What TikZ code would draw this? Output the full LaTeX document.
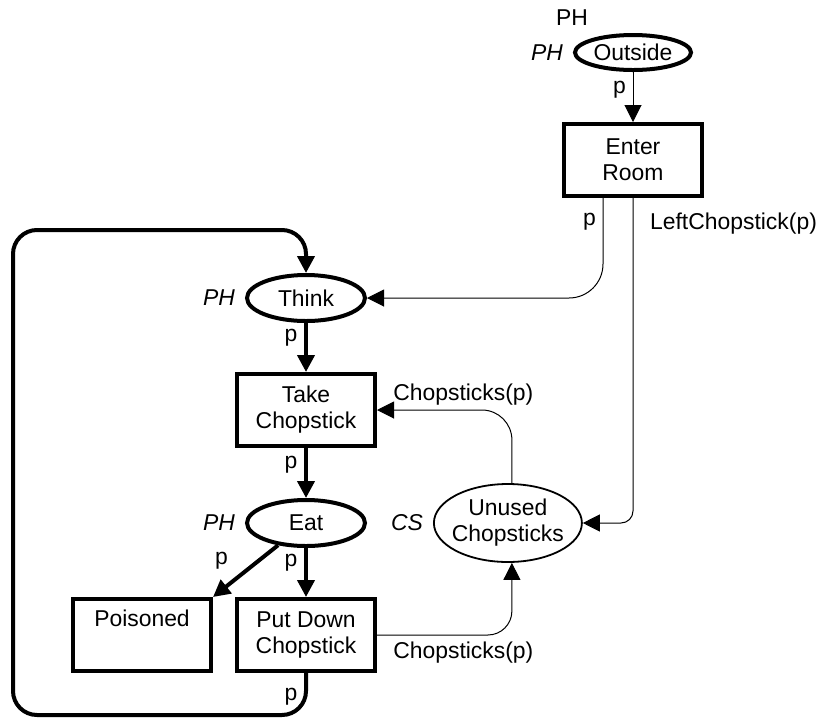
\documentclass[tikz,border=0pt]{standalone}
\usepackage{fontspec}
\setmainfont{Liberation Sans}
\usetikzlibrary{arrows.meta, positioning, shapes.geometric}
\tikzset{
  every picture/.style={font=\fontsize{11.45pt}{13pt}\selectfont},
  place/.style={ellipse, draw, line width=2pt, minimum width=59pt, minimum height=23pt, inner sep=0pt, align=center},
  trans/.style={rectangle, draw, line width=2pt, minimum width=69pt, minimum height=36pt, inner sep=0pt, align=center},
  thickarc/.style={-{Triangle[length=8.5pt, width=8.5pt]}, line width=2pt},
  thinarc/.style={-{Triangle[length=8.5pt, width=8.5pt]}, line width=0.5pt},
  cset/.style={font=\fontsize{11.45pt}{13pt}\selectfont\itshape, label distance=1.5pt},
}

\begin{document}
\begin{tikzpicture}[x=0.5pt, y=-0.5pt]
  \useasboundingbox (0,0) rectangle (821,719);
  % ---- entering the room (top right) ----
  \node[trans] (enter) at (633,160) {Enter\\Room};
  \node[place, minimum width=58pt, minimum height=17.5pt, above=25pt of enter,
        label={[cset]left:PH}, label={[xshift=-30.5pt]above:PH}] (outside) {Outside};
  \draw[thinarc] (outside) -- node[pos=0.36, left] {p} (enter);
  % ---- philosopher cycle ----
  \node[place, label={[cset]left:PH}] (think) at (306,298) {Think};
  \node[trans, below=24.5pt of think] (take) {Take\\Chopstick};
  \node[place, below=25pt of take, label={[cset]left:PH}] (eat) {Eat};
  \node[trans, below=24.5pt of eat] (putdown) {Put Down\\Chopstick};
  \node[trans, left=11pt of putdown] (poisoned) {Poisoned\\\strut};
  \draw[thickarc] (think) -- node[pos=0.3, left] {p} (take);
  \draw[thickarc] (take) -- node[pos=0.34, left] {p} (eat);
  \draw[thickarc] (eat) -- node[pos=0.3, left] {p} (putdown);
  \draw[thickarc] (eat) -- node[pos=0.3, left=11pt] {p} (poisoned.north east);
  % back to thinking
  \coordinate (loopbl) at (13,715);
  \coordinate (looptl) at (13,230);
  \draw[thickarc, rounded corners=12pt] (putdown.south) |- node[pos=0.28, left] {p} (loopbl) -- (looptl) -| (think.north);
  % ---- chopsticks ----
  \node[place, line width=0.9pt, minimum width=74pt, minimum height=39pt, inner xsep=-2pt,
        right=33pt of eat, label={[cset]left:CS}] (unused) {Unused\\Chopsticks};
  \draw[thinarc, rounded corners=17pt] ([xshift=-15pt]enter.south) |- node[pos=0.12, left] {p} (think.east);
  \draw[thinarc, rounded corners=6pt] (enter.south) |- node[pos=0.04, right=5pt] {LeftChopstick(p)} (unused.east);
  \draw[thinarc, rounded corners=15pt] ([xshift=2pt]unused.north) |- node[pos=0.68, above=-1pt] {Chopsticks(p)} (take.east);
  \draw[thinarc, rounded corners=12pt] (putdown.east) -| node[pos=0.32, below] {Chopsticks(p)} ([xshift=2pt]unused.south);
\end{tikzpicture}
\end{document}
